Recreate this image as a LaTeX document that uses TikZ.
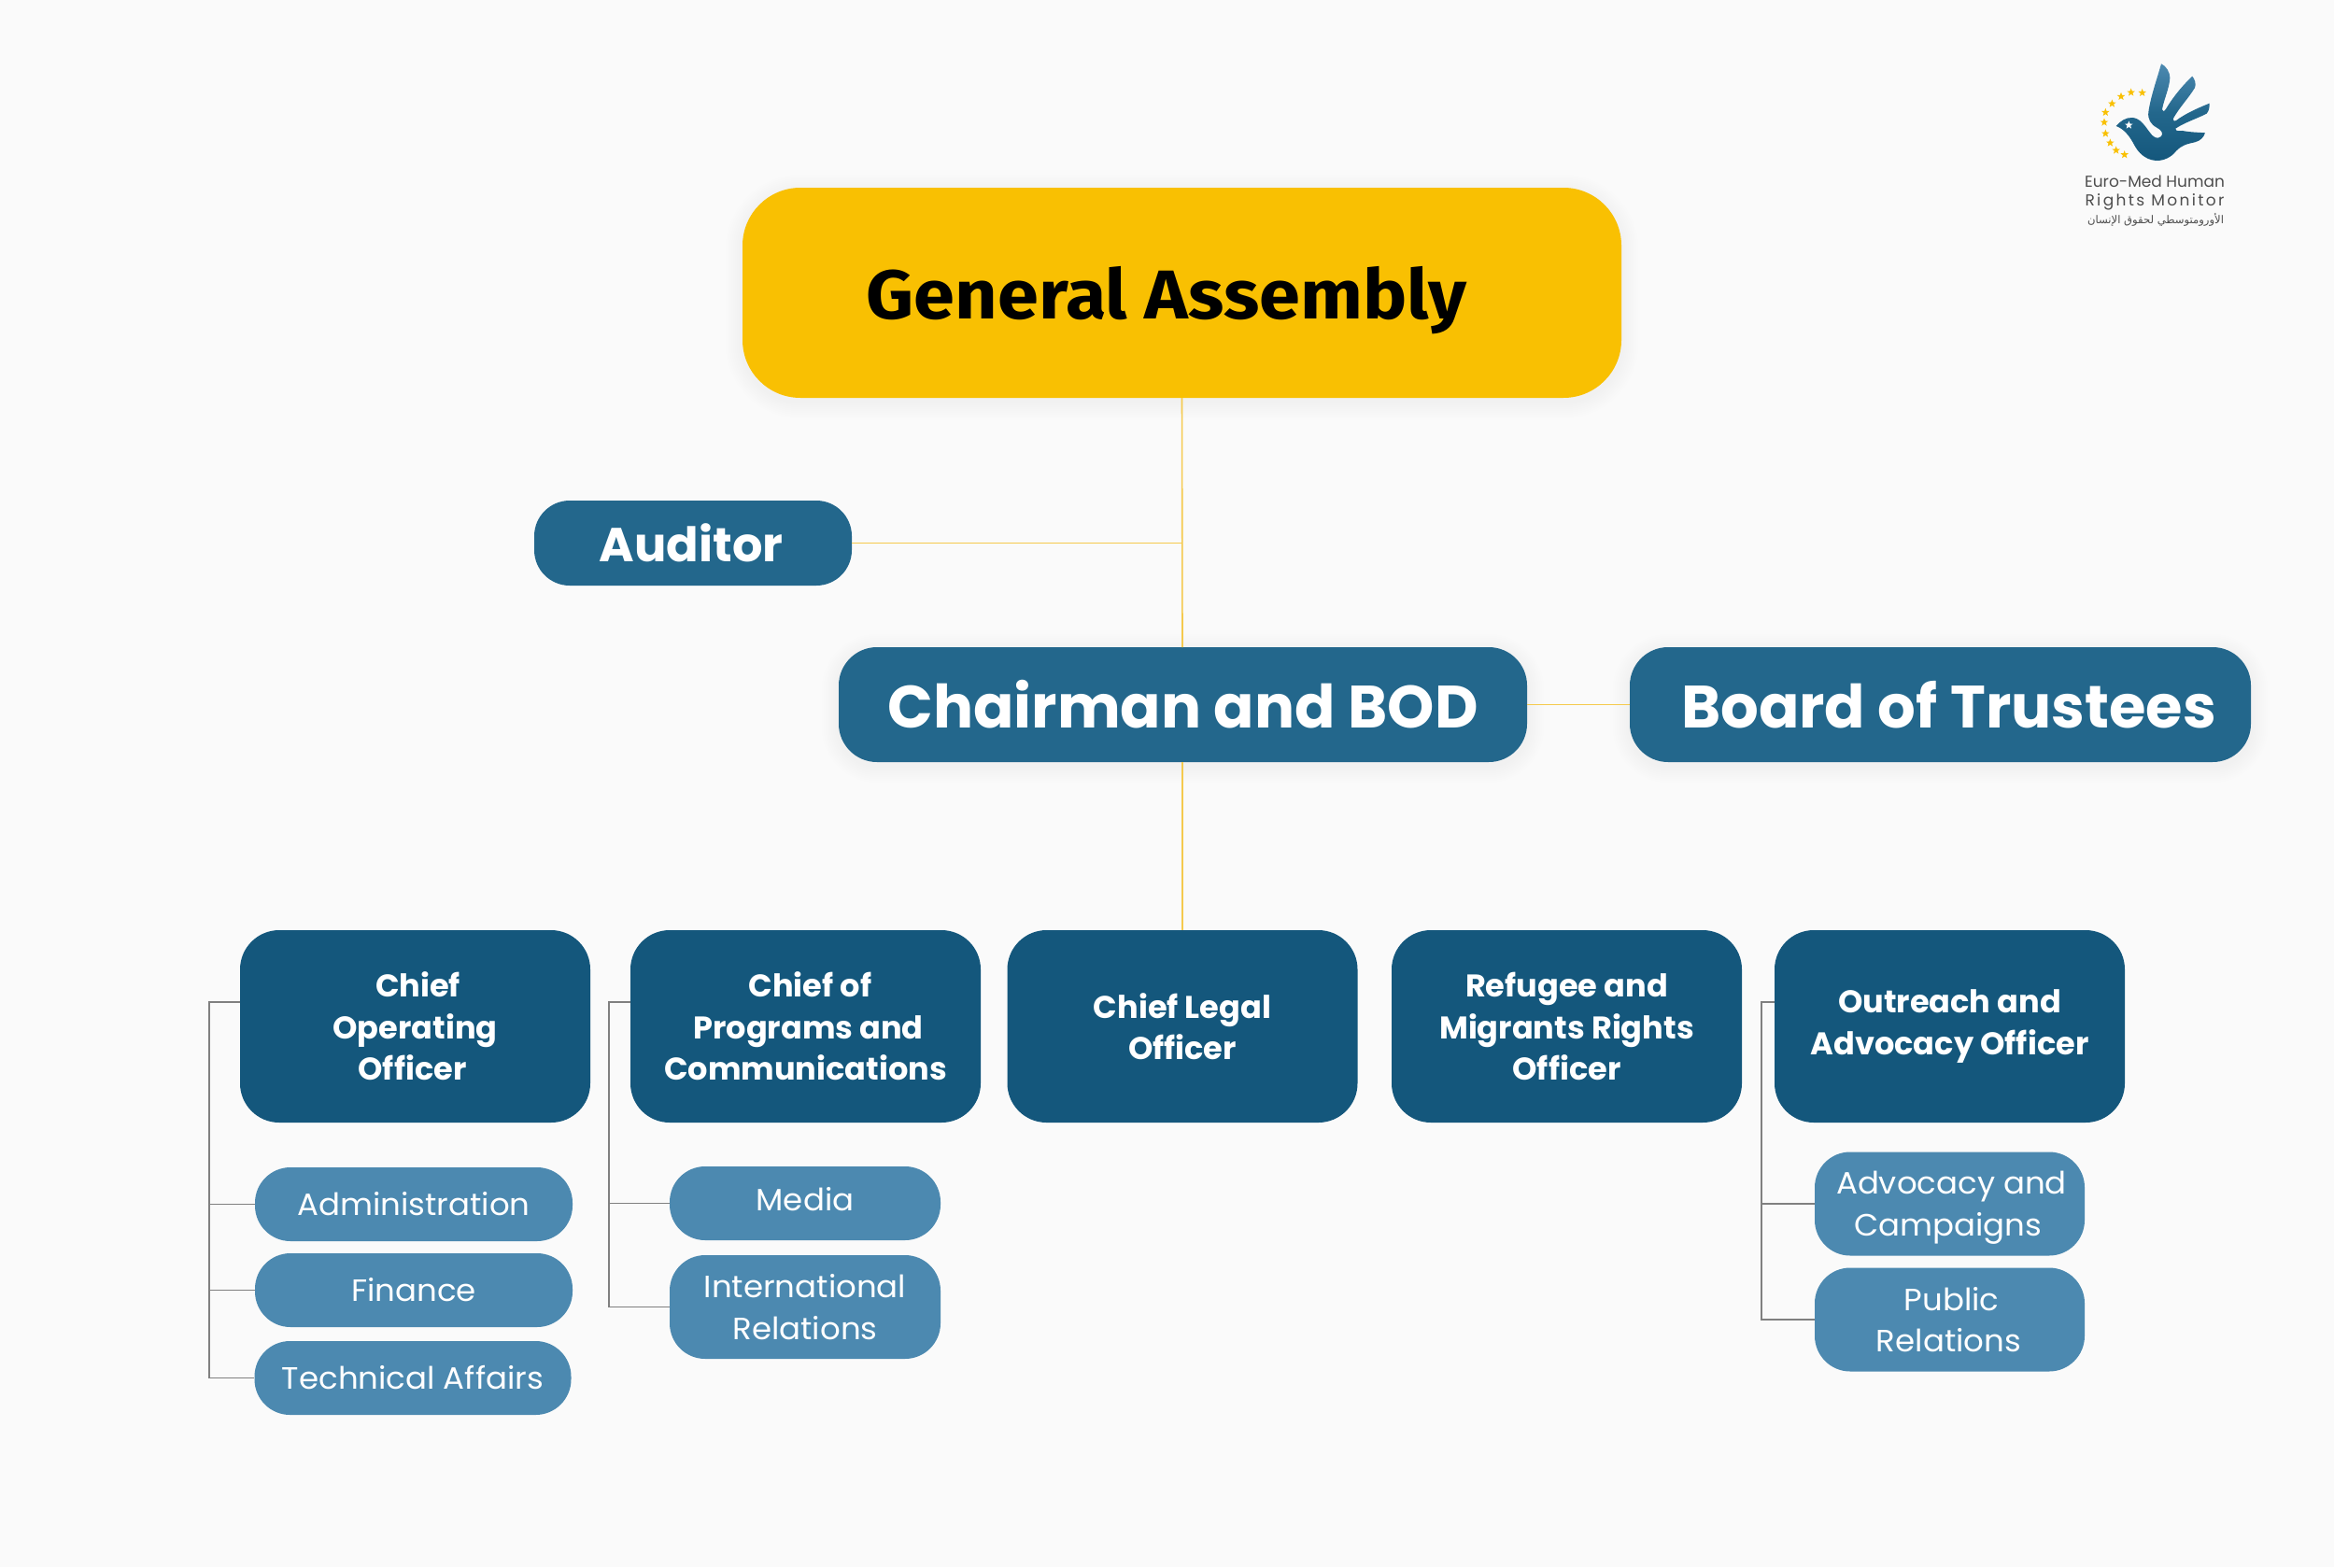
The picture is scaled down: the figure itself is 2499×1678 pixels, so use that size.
\documentclass[tikz,border=0pt]{standalone}
\usepackage{fontspec}
\usetikzlibrary{shapes.geometric,backgrounds,calc}
\TeXXeTstate=1
\setmainfont{Poppins}
\newfontfamily\popb{Poppins}
\newfontfamily\popm[FakeStretch=1.03]{Poppins}
\newfontfamily\gafont[FakeStretch=1.07]{Fira Sans}
\newfontfamily\arabicfont[Script=Arabic]{DejaVu Sans}
\definecolor{bgc}{HTML}{FAFAFA}
\definecolor{gold}{HTML}{F9C002}
\definecolor{topblue}{HTML}{23678C}
\definecolor{midblue}{HTML}{14577C}
\definecolor{subblue}{HTML}{4C89B0}
\definecolor{goldline}{HTML}{F5CA4E}
\definecolor{greyline}{HTML}{808080}
\definecolor{logotext}{HTML}{4D4D4D}
\tikzset{
  box/.style={rectangle,inner sep=0pt,text=white,align=center},
  gabox/.style={box,fill=gold,text=black,rounded corners=62pt,minimum width=941pt,minimum height=225pt,font=\gafont\bfseries\fontsize{74}{80}\selectfont},
  topbox/.style={box,fill=topblue,rounded corners=41pt,minimum height=123pt,font=\popb\bfseries\fontsize{64}{70}\selectfont},
  audbox/.style={box,fill=topblue,rounded corners=38pt,minimum width=340pt,minimum height=91pt,font=\popb\bfseries\fontsize{51}{56}\selectfont},
  chiefbox/.style={box,fill=midblue,rounded corners=42pt,minimum width=375pt,minimum height=206pt,font=\popb\bfseries\fontsize{33.6}{44.6}\selectfont},
  subbox/.style={box,fill=subblue,rounded corners=38pt,font=\popm\fontsize{33}{44.6}\selectfont},
  goldlink/.style={draw=goldline,line width=1.6pt},
  greylink/.style={draw=greyline,line width=1.3pt},
  logostar/.style={star,star points=5,star point ratio=2.4,inner sep=0pt,minimum size=9pt,fill=#1},
  logotxt/.style={inner sep=0pt,text=logotext,anchor=center},
}
\newcommand{\softshadow}[2]{%
  \begin{pgfonlayer}{background}
  \foreach \e in {2,4,...,18}{
    \fill[black,opacity=0.0055,rounded corners=#2+\e*1pt]
      ($(#1.north west)+(-\e,-\e+4)$) rectangle ($(#1.south east)+(\e,\e+4)$);
  }
  \end{pgfonlayer}}
\begin{document}
\begin{tikzpicture}[x=1pt,y=-1pt]
\useasboundingbox (0,0) rectangle (2499,1678);
\begin{pgfonlayer}{background}
\fill[bgc] (0,0) rectangle (2499,1678);
\end{pgfonlayer}
% main nodes
\node[gabox] (ga) at (1265.5,313.5) {\rule{0pt}{72pt}General Assembly\kern 33pt};
\node[audbox] (aud) at (742,581.5) {Auditor\kern 4pt};
\node[topbox,minimum width=737pt] (chair) at (1266.5,754.5) {Chairman and BOD};
\node[topbox,minimum width=665pt] (board) at (2077.5,754.5) {\kern 18pt Board of Trustees};
\node[chiefbox] (coo) at (444.5,1099) {\kern 6pt Chief\\Operating\\Officer\kern 6pt};
\node[chiefbox] (prog) at (862.5,1099) {\kern 10pt Chief of\\\kern 6pt Programs and\\Communications};
\node[chiefbox] (legal) at (1266,1099) {Chief Legal\\Officer};
\node[chiefbox] (ref) at (1677.5,1099) {Refugee and\\Migrants Rights\\Officer};
\node[chiefbox] (out) at (2087.5,1099) {Outreach and\\Advocacy Officer};
\node[subbox,minimum width=340pt,minimum height=79pt] (adm) at (443,1289.5) {Administration};
\node[subbox,minimum width=340pt,minimum height=79pt] (fin) at (443,1381.5) {Finance};
\node[subbox,minimum width=339pt,minimum height=79pt] (tech) at (442,1475.5) {Technical Affairs};
\node[subbox,minimum width=290pt,minimum height=79pt] (media) at (862,1288.5) {Media\rule[-10pt]{0pt}{0pt}};
\node[subbox,minimum width=290pt,minimum height=111pt] (intl) at (862,1399.5) {International\\Relations};
\node[subbox,minimum width=289pt,minimum height=111pt] (adv) at (2087.5,1289) {\kern 4pt Advocacy and\\\smash{Campaigns}\kern 4pt};
\node[subbox,minimum width=289pt,minimum height=111pt] (pub) at (2087.5,1413) {\kern 4pt Public\\Relations\kern 2pt};
% shadows
\softshadow{ga}{62pt}\softshadow{chair}{41pt}\softshadow{board}{41pt}
% gold connectors
\coordinate (audj) at (1266,581.5);
\coordinate (chairbotc) at (1266,816);
\coordinate (chairtopc) at (1266,693);
\draw[goldlink] (ga.south) -- (chairtopc);
\draw[goldlink] (aud.east) -- (audj);
\draw[goldlink] (chairbotc) -- (legal.north);
\draw[goldlink] (chair.east) -- (board.west);
% grey brackets
\coordinate (cooT) at (257,1073);
\coordinate (busA) at (224,1073);
\coordinate (progT) at (675,1073);
\coordinate (busB) at (652,1073);
\coordinate (outT) at (1900,1073);
\coordinate (busC) at (1886,1073);
\draw[greylink] (cooT) -- (busA) |- (tech.west);
\draw[greylink] (busA |- adm.west) -- (adm.west);
\draw[greylink] (busA |- fin.west) -- (fin.west);
\draw[greylink] (progT) -- (busB) |- (intl.west);
\draw[greylink] (busB |- media.west) -- (media.west);
\draw[greylink] (outT) -- (busC) |- (pub.west);
\draw[greylink] (busC |- adv.west) -- (adv.west);
% logo
\begin{scope}[shift={(2200,40)},x=0.3333pt,y=-0.3333pt]
\shade[top color=subblue,bottom color=midblue,middle color=topblue]
  (197,285) .. controls (212,268) and (228,257) .. (250,258)
  .. controls (275,260) and (290,285) .. (305,305)
  .. controls (315,320) and (330,330) .. (342,318)
  .. controls (350,308) and (342,298) .. (328,290)
  .. controls (308,280) and (298,262) .. (301,240)
  .. controls (308,190) and (328,135) .. (342,85)
  .. controls (358,92) and (370,112) .. (370,130)
  .. controls (368,165) and (350,200) .. (345,232)
  .. controls (350,244) and (356,232) .. (362,222)
  .. controls (385,185) and (415,150) .. (442,125)
  .. controls (450,135) and (455,150) .. (450,162)
  .. controls (430,195) and (398,228) .. (380,262)
  .. controls (382,275) and (392,266) .. (400,260)
  .. controls (430,240) and (465,225) .. (497,212)
  .. controls (497,225) and (496,235) .. (488,245)
  .. controls (455,262) and (420,272) .. (388,293)
  .. controls (388,303) and (400,300) .. (410,300)
  .. controls (435,305) and (460,305) .. (483,307)
  .. controls (478,322) and (468,332) .. (450,337)
  .. controls (425,342) and (405,348) .. (390,365)
  .. controls (375,385) and (350,397) .. (325,396)
  .. controls (290,393) and (268,370) .. (255,345)
  .. controls (243,322) and (225,295) .. (197,285) -- cycle;
\foreach \i/\px/\py in {1/281/178,2/245/177,3/213/190,4/184/213,5/163/241,6/159/273,7/163/309,8/178/339,9/197/363,10/224/377}
  \node[logostar=gold] (star\i) at (\px,\py) {};
\node[logostar=white] (starw) at (238,282) {};
\end{scope}
\node[logotxt,font=\fontsize{17}{20}\selectfont] (lg1) at (2307,194) {Euro-Med Human};
\node[logotxt,font=\fontsize{17}{20}\selectfont\addfontfeatures{LetterSpace=14}] (lg2) at (2307,216) {Rights Monitor};
\node[logotxt,font=\arabicfont\fontsize{11.6}{14}\selectfont] (lg3) at (2308,235) {\beginR الأورومتوسطي لحقوق الإنسان\endR};
\end{tikzpicture}
\end{document}
